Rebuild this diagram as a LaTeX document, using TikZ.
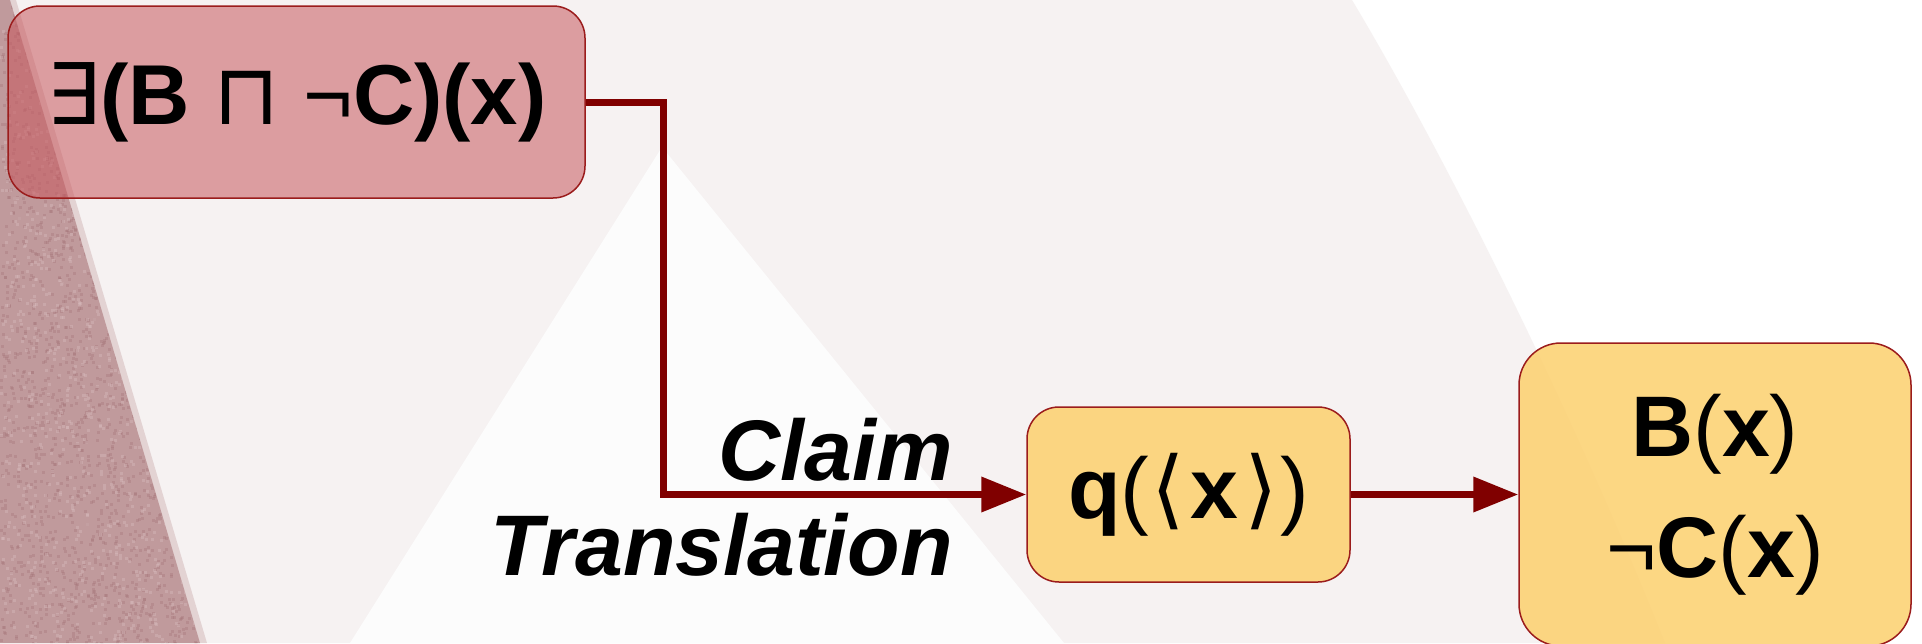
\documentclass[tikz,border=0pt]{standalone}
\usepackage{fontspec}
\setmainfont{Liberation Sans}
\newfontfamily\sym{DejaVu Sans}
\usetikzlibrary{arrows.meta}
\definecolor{bgpink}{HTML}{F6F2F2}
\definecolor{bgwhite}{HTML}{FCFCFC}
\definecolor{stripc}{HTML}{C09A9C}
\definecolor{speck}{HTML}{A47378}
\definecolor{lspeck}{HTML}{D8BCBE}
\definecolor{boxred}{HTML}{C8585E}
\definecolor{boxyel}{HTML}{FCD06E}
\definecolor{edgered}{HTML}{9B1C1C}
\definecolor{conncol}{HTML}{800000}
\tikzset{
  redbox/.style={draw=edgered, line width=1.5pt, fill=boxred, fill opacity=0.55, text opacity=1, rounded corners=32pt, inner sep=0pt},
  yelbox/.style={draw=edgered, line width=1.5pt, fill=boxyel, fill opacity=0.85, text opacity=1, inner sep=0pt},
  conn/.style={draw=conncol, line width=7pt, -{Triangle[length=45pt,width=34pt]}},
  lbl/.style={font=\fontsize{86}{95}\selectfont\bfseries\itshape, inner sep=0pt, anchor=base east}
}
\begin{document}
\begin{tikzpicture}[x=1pt,y=-1pt]
\useasboundingbox (0,0) rectangle (1922,643);
% background
\fill[white] (0,0) rectangle (1922,643);
\fill[bgpink] (0,0) -- (1352,0) .. controls (1430,130) and (1560,380) .. (1665,643) -- (0,643) -- cycle;
\fill[bgwhite] (662,147) -- (1064,643) -- (350,643) -- cycle;
\fill[stripc, opacity=0.35] (0,0) -- (16,0) -- (207,643) -- (0,643) -- cycle;
\fill[stripc] (0,0) -- (10,0) -- (200,643) -- (0,643) -- cycle;
\begin{scope}
  \clip (0,0) -- (10,0) -- (200,643) -- (0,643) -- cycle;
  \pgfmathsetseed{7}
  \foreach \i in {1,...,2200} {
    \pgfmathsetmacro{\px}{rnd*205}
    \pgfmathsetmacro{\py}{rnd*643}
    \fill[speck, opacity=0.35] (\px,\py) rectangle ++(3,3);
  }
  \foreach \i in {1,...,1200} {
    \pgfmathsetmacro{\px}{rnd*205}
    \pgfmathsetmacro{\py}{rnd*643}
    \fill[lspeck, opacity=0.4] (\px,\py) rectangle ++(3,3);
  }
\end{scope}
% nodes
\node[redbox, minimum width=577pt, minimum height=192pt, font=\fontsize{85}{95}\selectfont\bfseries] (A) at (296.5,102)
  {{\sym\mdseries ∃}(B {\sym\mdseries ⊓} {\mdseries ¬}C)(x)};
\node[yelbox, rounded corners=32pt, minimum width=323pt, minimum height=175pt, font=\fontsize{86}{95}\selectfont\bfseries] (Q) at (1188.5,494.5)
  {q{\mdseries(}\hspace{2pt}{\sym\mdseries ⟨}\hspace{6pt}x\hspace{6pt}{\sym\mdseries ⟩}\hspace{2pt}{\mdseries)}};
\node[yelbox, rounded corners=42pt, minimum width=392pt, minimum height=303pt, align=center, font=\fontsize{86}{121}\selectfont\bfseries] (R) at (1715,494.5)
  {B{\mdseries(}x{\mdseries)}\\{\mdseries ¬}C{\mdseries(}x{\mdseries)}};
\node[lbl] (claim) at (953,480) {Claim};
\node[lbl] (transl) at (953,575) {Translation};
% connectors
\coordinate (bend) at (663,300);
\draw[conn] (A.east) -| (bend) |- (Q.west);
\draw[conn] (Q.east) -- (R.west);
\end{tikzpicture}
\end{document}
